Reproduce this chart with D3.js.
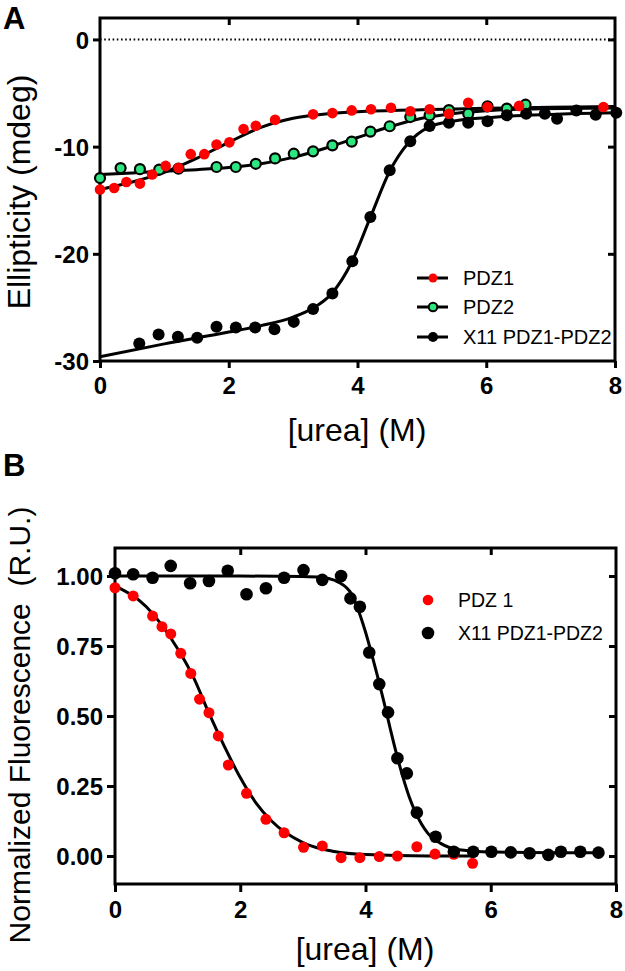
<!DOCTYPE html>
<html><head><meta charset="utf-8">
<script src="https://cdn.jsdelivr.net/npm/d3@7"></script>
<style>
body{margin:0;background:#fff;}
svg text{font-family:"Liberation Sans",Arial,sans-serif;}
</style></head>
<body><svg id="c" width="625" height="971"></svg>
<script>
// ---------- Panel A data (urea M, ellipticity mdeg) ----------
const aPDZ1_x = [0,0.22,0.41,0.62,0.81,1.02,1.22,1.41,1.62,1.81,2.01,2.23,2.42,2.72,3.31,3.61,3.91,4.21,4.52,4.82,5.12,5.42,5.72,6.02,6.51,7.82];
const aPDZ1_y = [-14.0,-13.86,-13.3,-13.45,-12.6,-11.8,-12.0,-10.7,-10.7,-9.8,-9.6,-8.36,-8.05,-7.5,-6.99,-6.87,-6.62,-6.52,-6.37,-6.7,-6.52,-6.93,-5.9,-6.3,-6.2,-6.3];
const aPDZ2_x = [0,0.32,0.62,0.92,1.22,1.81,2.11,2.42,2.72,3.01,3.31,3.61,3.91,4.2,4.5,4.82,5.12,5.42,5.72,6.02,6.32,6.61];
const aPDZ2_y = [-12.93,-12.0,-12.1,-12.15,-12.05,-11.9,-11.9,-11.6,-11.1,-10.66,-10.44,-9.88,-9.53,-8.6,-8.1,-7.24,-7.08,-6.6,-6.93,-6.24,-6.46,-6.09];
const aX11_x = [0.61,0.91,1.21,1.51,1.81,2.11,2.41,2.71,3.01,3.31,3.61,3.92,4.2,4.5,4.82,5.12,5.42,5.72,6.02,6.32,6.62,6.91,7.1,7.4,7.7,8.02];
const aX11_y = [-28.36,-27.52,-27.74,-27.84,-26.81,-26.87,-26.87,-27.03,-26.35,-25.16,-23.7,-20.69,-16.56,-12.2,-9.5,-8.08,-7.77,-7.77,-7.64,-7.08,-6.93,-6.93,-7.4,-6.62,-7.02,-6.83];
// fitted curves
const aFitPDZ1_x = [0,0.5,1,1.5,2,2.5,3,3.5,4,5,6,7,8];
const aFitPDZ1_y = [-14.0,-13.3,-12.4,-11.1,-9.6,-8.2,-7.35,-6.95,-6.75,-6.55,-6.42,-6.33,-6.25];
const aFitPDZ2_x = [0,0.5,1,1.5,2,2.5,3,3.5,4,4.5,5,5.5,6,6.6,8];
const aFitPDZ2_y = [-12.6,-12.45,-12.3,-12.15,-11.95,-11.6,-11.0,-10.15,-9.15,-8.15,-7.35,-6.9,-6.65,-6.5,-6.4];
const aFitX11_x = [0,1,2,2.5,3,3.3,3.6,3.9,4.2,4.5,4.8,5.1,5.5,6,7,8];
const aFitX11_y = [-29.6,-28.4,-27.3,-26.7,-25.9,-25.1,-23.7,-20.9,-16.6,-12.3,-9.6,-8.2,-7.6,-7.3,-7.0,-6.85];
const aXTicks = [0,2,4,6,8];
const aYTicks = [0,-10,-20,-30];
const aLegend = ["PDZ1","PDZ2","X11 PDZ1-PDZ2"];

// ---------- Panel B data (urea M, normalized fluorescence) ----------
const bPDZ1_x = [0,0.29,0.6,0.75,0.89,1.05,1.21,1.35,1.5,1.65,1.81,2.1,2.41,2.7,3.01,3.31,3.61,3.91,4.22,4.51,4.82,5.11,5.41,5.71];
const bPDZ1_y = [0.958,0.929,0.857,0.819,0.793,0.724,0.652,0.56,0.512,0.429,0.325,0.224,0.131,0.083,0.031,0.036,-0.006,-0.006,-0.002,0.0,0.033,0.007,0.006,-0.026];
const bX11_x = [0,0.29,0.6,0.89,1.2,1.5,1.8,2.1,2.41,2.7,3.01,3.31,3.61,3.76,3.91,4.06,4.22,4.36,4.51,4.66,4.82,5.12,5.41,5.72,6.01,6.32,6.62,6.92,7.12,7.43,7.72];
const bX11_y = [1.01,1.006,0.994,1.036,0.974,0.982,1.019,0.935,0.956,0.994,1.021,0.986,1.0,0.92,0.89,0.727,0.614,0.513,0.349,0.295,0.155,0.069,0.015,0.015,0.015,0.013,0.01,0.004,0.015,0.015,0.012];
const bFitPDZ1_x = [0,0.5,1,1.25,1.5,1.75,2,2.25,2.5,3,3.5,4,5,5.72];
const bFitPDZ1_y = [0.965,0.89,0.74,0.64,0.51,0.39,0.28,0.19,0.125,0.048,0.016,0.005,0.0,0.0];
const bFitX11_x = [0,1,2,3,3.3,3.5,3.75,4.0,4.1,4.2,4.3,4.4,4.5,4.6,4.7,4.8,5.0,5.2,5.5,6,7,7.72];
const bFitX11_y = [1.0,1.0,1.0,0.998,0.995,0.985,0.945,0.8,0.72,0.635,0.545,0.45,0.36,0.28,0.21,0.155,0.08,0.045,0.022,0.014,0.012,0.012];
const bXTicks = [0,2,4,6,8];
const bYTicks = [0,0.25,0.5,0.75,1.0];
const bLegend = ["PDZ 1","X11 PDZ1-PDZ2"];

const svg = d3.select("#c");
const zip = (xs, ys) => xs.map((x,i)=>[x, ys[i]]);
const fmtInt = d => String(d);
const fmt2 = d => d.toFixed(2);

function frame(g, x, y, xt, yt, xfmt, yfmt, tickOut, tickIn){
  const [x0,x1] = x.range(), [y0,y1] = y.range();
  const bx = d3.axisBottom(x).tickValues(xt).tickSize(tickOut).tickFormat(xfmt).tickSizeOuter(0);
  const gb = g.append("g").attr("transform",`translate(0,${y0})`).call(bx);
  const ly = d3.axisLeft(y).tickValues(yt).tickSize(tickOut).tickFormat(yfmt).tickSizeOuter(0);
  const gl = g.append("g").attr("transform",`translate(${x0},0)`).call(ly);
  const ty = d3.axisTop(x).tickValues(xt.slice(1,-1)).tickSize(-tickIn).tickFormat("").tickSizeOuter(0);
  const gt = g.append("g").attr("transform",`translate(0,${y1})`).call(ty);
  const ry = d3.axisRight(y).tickValues(yt.filter(v=>y(v)>y1+2 && y(v)<y0-2)).tickSize(-tickIn).tickFormat("").tickSizeOuter(0);
  const gr = g.append("g").attr("transform",`translate(${x1},0)`).call(ry);
  [gb,gl,gt,gr].forEach(a=>{
    a.select(".domain").attr("stroke","#000").attr("stroke-width",3).attr("d", null);
    a.selectAll(".tick line").attr("stroke","#000").attr("stroke-width",3);
    a.selectAll(".tick text").attr("fill","#000").attr("font-weight","bold").attr("font-size",24)
      .attr("font-family","Liberation Sans, Arial, sans-serif");
  });
  gb.selectAll(".tick text").attr("dy",null).attr("y", tickOut+26);
  gl.selectAll(".tick text").attr("x", -(tickOut+4)).attr("dy","0.36em");
  g.append("rect").attr("x",x0).attr("y",y1).attr("width",x1-x0).attr("height",y0-y1)
    .attr("fill","none").attr("stroke","#000").attr("stroke-width",3);
}

// ================= Panel A =================
const xA = d3.scaleLinear().domain([0,8]).range([100,615]);
const yA = d3.scaleLinear().domain([-30,2]).range([361,18]);
const gA = svg.append("g");
gA.append("line").attr("x1",xA(0)).attr("x2",xA(8)).attr("y1",yA(0)).attr("y2",yA(0))
  .attr("stroke","#000").attr("stroke-width",2).attr("stroke-dasharray","1.6,2.6");
frame(gA, xA, yA, aXTicks, aYTicks, fmtInt, fmtInt, 7, 7);

const lineA = d3.line().x(d=>xA(d[0])).y(d=>yA(d[1])).curve(d3.curveMonotoneX);
[[aFitPDZ2_x,aFitPDZ2_y],[aFitPDZ1_x,aFitPDZ1_y],[aFitX11_x,aFitX11_y]].forEach(([xs,ys])=>{
  gA.append("path").attr("d", lineA(zip(xs,ys))).attr("fill","none").attr("stroke","#000").attr("stroke-width",3);
});
gA.selectAll(".pdz2").data(zip(aPDZ2_x,aPDZ2_y)).join("circle")
  .attr("cx",d=>xA(d[0])).attr("cy",d=>yA(d[1])).attr("r",5).attr("fill","#2ee67f").attr("stroke","#000").attr("stroke-width",2.2);
gA.selectAll(".x11").data(zip(aX11_x,aX11_y)).join("circle")
  .attr("cx",d=>xA(d[0])).attr("cy",d=>yA(d[1])).attr("r",6).attr("fill","#000");
gA.selectAll(".pdz1").data(zip(aPDZ1_x,aPDZ1_y)).join("circle")
  .attr("cx",d=>xA(d[0])).attr("cy",d=>yA(d[1])).attr("r",5.3).attr("fill","#ff0000");

const legA = gA.append("g");
const legAy = [278,307,337];
aLegend.forEach((t,i)=>{
  const yy = legAy[i];
  legA.append("line").attr("x1",417).attr("x2",448).attr("y1",yy).attr("y2",yy).attr("stroke","#000").attr("stroke-width",3);
  if(i===0) legA.append("circle").attr("cx",433).attr("cy",yy).attr("r",4.5).attr("fill","#ff0000");
  if(i===1) legA.append("circle").attr("cx",433).attr("cy",yy).attr("r",4.3).attr("fill","#2ee67f").attr("stroke","#000").attr("stroke-width",2);
  if(i===2) legA.append("circle").attr("cx",433).attr("cy",yy).attr("r",5).attr("fill","#000");
  legA.append("text").attr("x",463).attr("y",yy+7).attr("font-size",20).text(t);
});

gA.append("text").attr("x",357).attr("y",441).attr("text-anchor","middle").attr("font-size",32).text("[urea] (M)");
gA.append("text").attr("transform",`translate(30,192) rotate(-90)`).attr("text-anchor","middle").attr("font-size",32).text("Ellipticity (mdeg)");
gA.append("text").attr("x",3).attr("y",29).attr("font-size",31).attr("font-weight","bold").text("A");

// ================= Panel B =================
const xB = d3.scaleLinear().domain([0,8]).range([115,616]);
const yB = d3.scaleLinear().domain([-0.1,1.1]).range([884,548]);
const gB = svg.append("g");
frame(gB, xB, yB, bXTicks, bYTicks, fmtInt, fmt2, 8, 7);

const lineB = d3.line().x(d=>xB(d[0])).y(d=>yB(d[1])).curve(d3.curveMonotoneX);
[[bFitPDZ1_x,bFitPDZ1_y],[bFitX11_x,bFitX11_y]].forEach(([xs,ys])=>{
  gB.append("path").attr("d", lineB(zip(xs,ys))).attr("fill","none").attr("stroke","#000").attr("stroke-width",3);
});
gB.selectAll(".bpdz1").data(zip(bPDZ1_x,bPDZ1_y)).join("circle")
  .attr("cx",d=>xB(d[0])).attr("cy",d=>yB(d[1])).attr("r",5.5).attr("fill","#ff0000");
gB.selectAll(".bx11").data(zip(bX11_x,bX11_y)).join("circle")
  .attr("cx",d=>xB(d[0])).attr("cy",d=>yB(d[1])).attr("r",6.3).attr("fill","#000");

const legBy = [600,633];
bLegend.forEach((t,i)=>{
  const yy = legBy[i];
  gB.append("circle").attr("cx",428).attr("cy",yy).attr("r",i===0?5.3:6.3).attr("fill",i===0?"#ff0000":"#000");
  gB.append("text").attr("x",458).attr("y",yy+7).attr("font-size",19.5).text(t);
});

gB.append("text").attr("x",365).attr("y",960).attr("text-anchor","middle").attr("font-size",32).text("[urea] (M)");
gB.append("text").attr("transform",`translate(30,725) rotate(-90)`).attr("text-anchor","middle").attr("font-size",30).style("white-space","pre").text("Normalized Fluorescence  (R.U.)");
gB.append("text").attr("x",3).attr("y",476).attr("font-size",31).attr("font-weight","bold").text("B");
</script></body></html>
